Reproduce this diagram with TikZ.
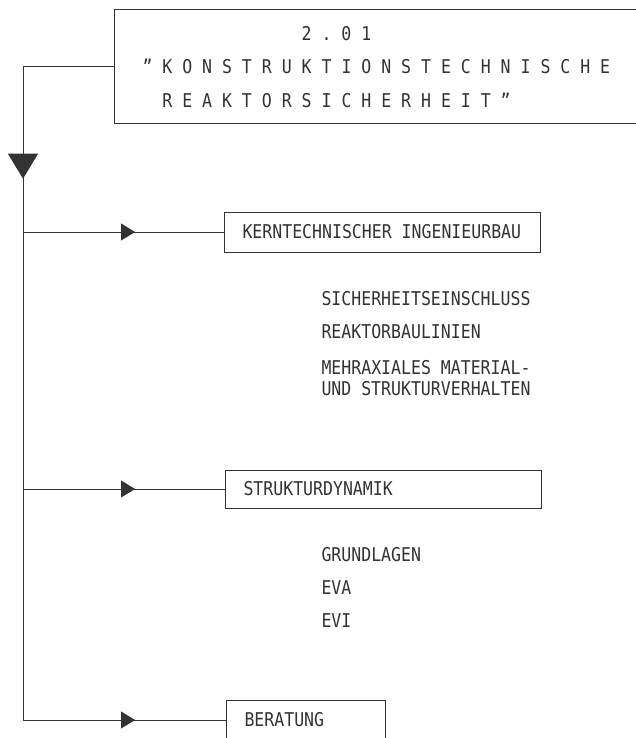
\documentclass[tikz,border=0pt]{standalone}
\usepackage{fontspec}
\newfontfamily\plotfont[FakeStretch=0.87]{DejaVu Sans Mono}
\newcommand\plotsize{\plotfont\fontsize{19pt}{33.5pt}\selectfont}
\usetikzlibrary{arrows.meta}

\begin{document}
\begin{tikzpicture}[x=1pt,y=-1pt,line width=1pt,color=black!80,font=\plotsize,
	execute at begin node={\spaceskip 9.95pt\relax},
	unit/.style={draw,anchor=west,minimum height=40pt,inner xsep=18pt,inner ysep=0pt,align=left},
	item/.style={anchor=base west,inner sep=0pt},
	branch/.style={-{Triangle[length=14pt,width=17pt]}},
	trunkarrow/.style={-{Triangle[length=25pt,width=30pt]}}]
	\useasboundingbox[fill=white] (0,0) rectangle (636,738);
	\node[draw,anchor=north west,text width=484pt,inner xsep=28pt,inner ysep=16pt,align=left] (title) at (114,9.5)
		{~~~~~~~~~~~~~~~~2~.~0~1\\
		”~K~O~N~S~T~R~U~K~T~I~O~N~S~T~E~C~H~N~I~S~C~H~E\\
		~~R~E~A~K~T~O~R~S~I~C~H~E~R~H~E~I~T~”};
	\node[unit,text width=280pt] (kib) at (224,232) {KERNTECHNISCHER INGENIEURBAU};
	\node[item] (sich) at (321,305) {SICHERHEITSEINSCHLUSS};
	\node[item] (bau) at (321,338) {REAKTORBAULINIEN};
	\node[item] (mat) at (321,374) {MEHRAXIALES MATERIAL-};
	\node[item] (und) at (321,395) {UND STRUKTURVERHALTEN};
	\node[unit,text width=280pt,minimum height=38pt] (dyn) at (225,489) {STRUKTURDYNAMIK};
	\node[item] (grund) at (321,561) {GRUNDLAGEN};
	\node[item] (eva) at (321,594) {EVA};
	\node[item] (evi) at (321,627) {EVI};
	\node[unit,text width=123pt] (ber) at (226,720) {BERATUNG};
	\coordinate (trunk) at ([xshift=-91pt]title.west);
	\draw (title.west) -- (trunk) -- (trunk |- ber.west);
	\draw[trunkarrow] (trunk) -- ++(0,112);
	\foreach \n in {kib,dyn,ber}{
		\draw (trunk |- \n.west) -- (\n.west);
		\draw[branch] (trunk |- \n.west) -- ++(112,0);
	}
\end{tikzpicture}
\end{document}
